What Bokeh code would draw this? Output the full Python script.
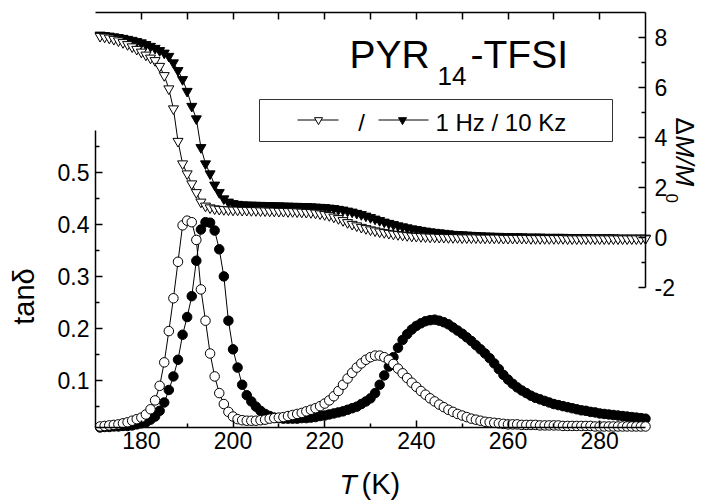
from math import pi
from bokeh.plotting import figure
from bokeh.models import Range1d, LinearAxis, FixedTicker, Label
from bokeh.embed import file_html
from bokeh.resources import INLINE

# ---------------- data ----------------
temperature = [
    171, 172, 173, 174, 175, 176, 177, 178, 179, 180,
    181, 182, 183, 184, 185, 186, 187, 188, 189, 190,
    191, 192, 193, 194, 195, 196, 197, 198, 199, 200,
    201, 202, 203, 204, 205, 206, 207, 208, 209, 210,
    211, 212, 213, 214, 215, 216, 217, 218, 219, 220,
    221, 222, 223, 224, 225, 226, 227, 228, 229, 230,
    231, 232, 233, 234, 235, 236, 237, 238, 239, 240,
    241, 242, 243, 244, 245, 246, 247, 248, 249, 250,
    251, 252, 253, 254, 255, 256, 257, 258, 259, 260,
    261, 262, 263, 264, 265, 266, 267, 268, 269, 270,
    271, 272, 273, 274, 275, 276, 277, 278, 279, 280,
    281, 282, 283, 284, 285, 286, 287, 288, 289, 290,
]

# Delta M / M0, 1 Hz (open down-triangles)
dm_1hz = [
    8.05, 8.02, 7.98, 7.93, 7.87, 7.80, 7.72, 7.63, 7.53, 7.42,
    7.30, 7.18, 7.08, 6.85, 6.48, 5.95, 5.15, 3.85, 2.95, 2.55,
    2.15, 1.80, 1.42, 1.26, 1.19, 1.15, 1.13, 1.12, 1.11, 1.10,
    1.10, 1.09, 1.09, 1.08, 1.08, 1.07, 1.07, 1.06, 1.06, 1.05,
    1.05, 1.04, 1.04, 1.03, 1.02, 1.01, 1.00, 0.98, 0.95, 0.92,
    0.88, 0.82, 0.76, 0.68, 0.60, 0.53, 0.47, 0.41, 0.36, 0.31,
    0.27, 0.23, 0.20, 0.17, 0.14, 0.12, 0.10, 0.08, 0.06, 0.05,
    0.04, 0.03, 0.02, 0.02, 0.01, 0.01, 0.00, 0.00, 0.00, -0.01,
    -0.01, -0.01, -0.01, -0.02, -0.02, -0.02, -0.02, -0.02, -0.03, -0.03,
    -0.03, -0.03, -0.03, -0.03, -0.04, -0.04, -0.04, -0.04, -0.04, -0.04,
    -0.04, -0.04, -0.05, -0.05, -0.05, -0.05, -0.05, -0.05, -0.05, -0.05,
    -0.05, -0.05, -0.05, -0.05, -0.05, -0.05, -0.05, -0.05, -0.05, -0.05,
]

# Delta M / M0, 10 kHz (filled down-triangles)
dm_10khz = [
    8.10, 8.08, 8.06, 8.03, 8.00, 7.97, 7.93, 7.89, 7.84, 7.79,
    7.72, 7.65, 7.57, 7.48, 7.38, 7.25, 6.99, 6.68, 6.32, 5.85,
    5.25, 4.75, 3.60, 2.95, 2.55, 2.10, 1.80, 1.55, 1.42, 1.36,
    1.33, 1.31, 1.30, 1.30, 1.29, 1.29, 1.28, 1.28, 1.27, 1.27,
    1.26, 1.26, 1.25, 1.25, 1.24, 1.24, 1.23, 1.22, 1.21, 1.20,
    1.18, 1.16, 1.13, 1.10, 1.06, 1.02, 0.97, 0.92, 0.86, 0.80,
    0.74, 0.68, 0.62, 0.57, 0.52, 0.47, 0.43, 0.39, 0.35, 0.32,
    0.29, 0.26, 0.23, 0.21, 0.19, 0.17, 0.15, 0.13, 0.12, 0.11,
    0.10, 0.09, 0.08, 0.07, 0.06, 0.06, 0.05, 0.05, 0.04, 0.04,
    0.03, 0.03, 0.03, 0.02, 0.02, 0.02, 0.02, 0.01, 0.01, 0.01,
    0.01, 0.01, 0.00, 0.00, 0.00, 0.00, 0.00, -0.01, -0.01, -0.01,
    -0.01, -0.01, -0.01, -0.02, -0.02, -0.02, -0.02, -0.02, -0.02, -0.02,
]

# tan(delta), 1 Hz (open circles)
tan_1hz = [
    0.012, 0.013, 0.014, 0.015, 0.016, 0.018, 0.020, 0.023, 0.026, 0.029,
    0.035, 0.045, 0.062, 0.090, 0.135, 0.195, 0.258, 0.328, 0.398, 0.407,
    0.404, 0.370, 0.275, 0.215, 0.152, 0.108, 0.076, 0.055, 0.040, 0.031,
    0.026, 0.024, 0.023, 0.023, 0.023, 0.024, 0.025, 0.027, 0.028, 0.029,
    0.030, 0.032, 0.034, 0.036, 0.038, 0.041, 0.044, 0.047, 0.051, 0.056,
    0.062, 0.070, 0.080, 0.092, 0.104, 0.115, 0.125, 0.133, 0.140, 0.145,
    0.148, 0.148, 0.145, 0.140, 0.132, 0.123, 0.114, 0.105, 0.096, 0.088,
    0.080, 0.073, 0.066, 0.060, 0.054, 0.049, 0.044, 0.040, 0.036, 0.033,
    0.030, 0.027, 0.025, 0.023, 0.021, 0.020, 0.019, 0.018, 0.017, 0.016,
    0.016, 0.016, 0.015, 0.015, 0.015, 0.015, 0.014, 0.014, 0.014, 0.014,
    0.014, 0.013, 0.013, 0.013, 0.013, 0.013, 0.013, 0.013, 0.012, 0.012,
    0.012, 0.012, 0.012, 0.012, 0.012, 0.012, 0.012, 0.012, 0.012, 0.012,
]

# tan(delta), 10 kHz (filled circles)
tan_10khz = [
    0.010, 0.011, 0.011, 0.012, 0.012, 0.013, 0.013, 0.014, 0.016, 0.018,
    0.020, 0.025, 0.031, 0.042, 0.058, 0.082, 0.108, 0.140, 0.188, 0.222,
    0.262, 0.330, 0.390, 0.404, 0.403, 0.388, 0.352, 0.300, 0.215, 0.160,
    0.125, 0.092, 0.072, 0.060, 0.050, 0.042, 0.036, 0.032, 0.029, 0.028,
    0.027, 0.027, 0.027, 0.027, 0.028, 0.028, 0.029, 0.030, 0.032, 0.033,
    0.035, 0.037, 0.039, 0.041, 0.044, 0.047, 0.050, 0.055, 0.060, 0.066,
    0.076, 0.092, 0.110, 0.127, 0.145, 0.163, 0.178, 0.189, 0.198, 0.205,
    0.210, 0.214, 0.216, 0.217, 0.215, 0.212, 0.208, 0.202, 0.196, 0.190,
    0.183, 0.176, 0.168, 0.160, 0.152, 0.143, 0.133, 0.122, 0.111, 0.102,
    0.094, 0.087, 0.081, 0.076, 0.071, 0.067, 0.064, 0.061, 0.058, 0.055,
    0.053, 0.051, 0.049, 0.047, 0.045, 0.043, 0.042, 0.040, 0.039, 0.037,
    0.036, 0.035, 0.034, 0.033, 0.032, 0.031, 0.030, 0.029, 0.028, 0.027,
]

x_major = [180, 200, 220, 240, 260, 280]
x_minor = [190, 210, 230, 250, 270]
top_ticks = [180, 190, 200, 210, 220, 230, 240, 250, 260, 270, 280]
tan_major = [0.1, 0.2, 0.3, 0.4, 0.5]
tan_minor = [0.05, 0.15, 0.25, 0.35, 0.45, 0.55]
dm_major = [-2, 0, 2, 4, 6, 8]
dm_minor = [-1, 1, 3, 5, 7]

title_main = "PYR"
title_sub = "14"
title_tail = "-TFSI"
legend_text = "1 Hz / 10 Kz"

# ---------------- layout ----------------
# The plot frame fills the whole page; the axes are pinned (fixed_location)
# where the reference draws them, so every text can sit outside the axes.
W, H = 701, 501
AL, AR, AT, AB = 95, 645, 12, 427          # axis box in page pixels
X0, X1 = 170.0, 290.0                      # temperature at AL, AR
TAN0, TAN_AX_TOP = 0.01, 0.58              # tan(delta) at AB and at 130 px
TAN_AX_TOP_PX = 130
DM_TOP, DM_AX_BOTTOM = 9.0, -2.0           # Delta M / M0 at AT and at 287 px
DM_AX_BOTTOM_PX = 287

KX = (X1 - X0) / (AR - AL)                       # K per px
KT = (TAN_AX_TOP - TAN0) / (AB - TAN_AX_TOP_PX)  # tan units per px
KD = (DM_TOP - DM_AX_BOTTOM) / (DM_AX_BOTTOM_PX - AT)


def xd(px):
    return X0 + (px - AL) * KX


def yd(py):
    return TAN0 + (AB - py) * KT


def yd_dm(py):
    return DM_TOP - (py - AT) * KD


FONT = "Liberation Sans"

p = figure(width=W, height=H,
           x_range=Range1d(xd(0), xd(W)), y_range=Range1d(yd(H), yd(0)),
           output_backend="svg", toolbar_location=None,
           x_axis_location=None, y_axis_location=None,
           min_border_left=0, min_border_right=0,
           min_border_top=0, min_border_bottom=0)
p.extra_y_ranges = {"dm": Range1d(yd_dm(H), yd_dm(0))}
p.outline_line_color = None
p.background_fill_color = "white"
p.border_fill_color = "white"
for g in p.grid:
    g.visible = False


def style_axis(ax, major, minor, standoff):
    ax.ticker = FixedTicker(ticks=major, minor_ticks=minor)
    ax.major_tick_in = 7
    ax.major_tick_out = 0
    ax.minor_tick_in = 4
    ax.minor_tick_out = 0
    ax.axis_line_width = 1.5
    ax.major_tick_line_width = 1.5
    ax.minor_tick_line_width = 1.5
    ax.axis_line_color = "black"
    ax.major_tick_line_color = "black"
    ax.minor_tick_line_color = "black"
    ax.major_label_text_font = FONT
    ax.major_label_text_font_size = "23px"
    ax.major_label_text_color = "black"
    ax.major_label_standoff = standoff


bottom = LinearAxis(fixed_location=yd(AB), bounds=(X0, X1))
style_axis(bottom, x_major, x_minor, 4)
p.add_layout(bottom, "below")

top = LinearAxis(fixed_location=yd(AT), bounds=(X0, X1))
style_axis(top, [], top_ticks, 0)
top.minor_tick_in = 7
p.add_layout(top, "above")

left = LinearAxis(fixed_location=X0, bounds=(TAN0, TAN_AX_TOP))
style_axis(left, tan_major, tan_minor, 6)
p.add_layout(left, "left")

right = LinearAxis(fixed_location=X1, y_range_name="dm", bounds=(DM_AX_BOTTOM, DM_TOP))
style_axis(right, dm_major, dm_minor, 9)
right.major_label_overrides = {-2: "-2"}
p.add_layout(right, "right")

# ---------------- data marks ----------------
p.line(temperature, dm_10khz, y_range_name="dm", line_color="black", line_width=1)
p.scatter(temperature, dm_10khz, y_range_name="dm", marker="inverted_triangle", size=10,
          fill_color="black", line_color="black", line_width=1)
p.line(temperature, dm_1hz, y_range_name="dm", line_color="black", line_width=1)
p.scatter(temperature, dm_1hz, y_range_name="dm", marker="inverted_triangle", size=10,
          fill_color="white", line_color="black", line_width=1)

p.line(temperature, tan_10khz, line_color="black", line_width=1)
p.scatter(temperature, tan_10khz, marker="circle", size=9.5,
          fill_color="black", line_color="black", line_width=1)
p.line(temperature, tan_1hz, line_color="black", line_width=1)
p.scatter(temperature, tan_1hz, marker="circle", size=9.5,
          fill_color="white", line_color="black", line_width=1)

# ---------------- legend (drawn by hand) ----------------
p.quad(left=xd(259), right=xd(612), top=yd(99), bottom=yd(141),
       fill_color="white", line_color="#333333", line_width=1)
ly = yd(119.5)
p.line([xd(297), xd(338)], [ly, ly], line_color="black", line_width=1)
p.scatter([xd(318)], [ly], marker="inverted_triangle", size=8,
          fill_color="white", line_color="black", line_width=1)
p.line([xd(378), xd(428)], [ly, ly], line_color="black", line_width=1)
p.scatter([xd(402)], [ly], marker="inverted_triangle", size=8,
          fill_color="black", line_color="black", line_width=1)

SHIFT = 0.33  # measured offset of the rendered baseline, in em


def add_label(text, px, py, size, style="normal", align="left", angle=0.0):
    d = SHIFT * size
    if angle == 0.0:
        py -= d
    elif angle > 0:
        px -= d
    else:
        px += d
    p.add_layout(Label(x=xd(px), y=yd(py), text=text, text_font=FONT,
                       text_font_size=f"{size}px", text_font_style=style, text_color="black",
                       text_align=align, text_baseline="alphabetic", angle=angle))


add_label("/", 361, 129.5, 24, align="center")
add_label(legend_text, 435, 129.5, 24)

# title
add_label(title_main, 349, 67, 39)
add_label(title_sub, 437, 84, 26)
add_label(title_tail, 470, 67, 39)

# axis titles
add_label("tanδ", 33, 296, 29, align="center", angle=pi / 2)
add_label("T", 339, 493, 28, style="italic")
add_label("(K)", 361, 493, 29)
add_label("Δ", 676, 117, 26, angle=-pi / 2)
add_label("M/M", 676, 135, 26, style="italic", angle=-pi / 2)
add_label("0", 666, 193, 17, angle=-pi / 2)

open("out.html", "w").write(file_html(p, INLINE))
